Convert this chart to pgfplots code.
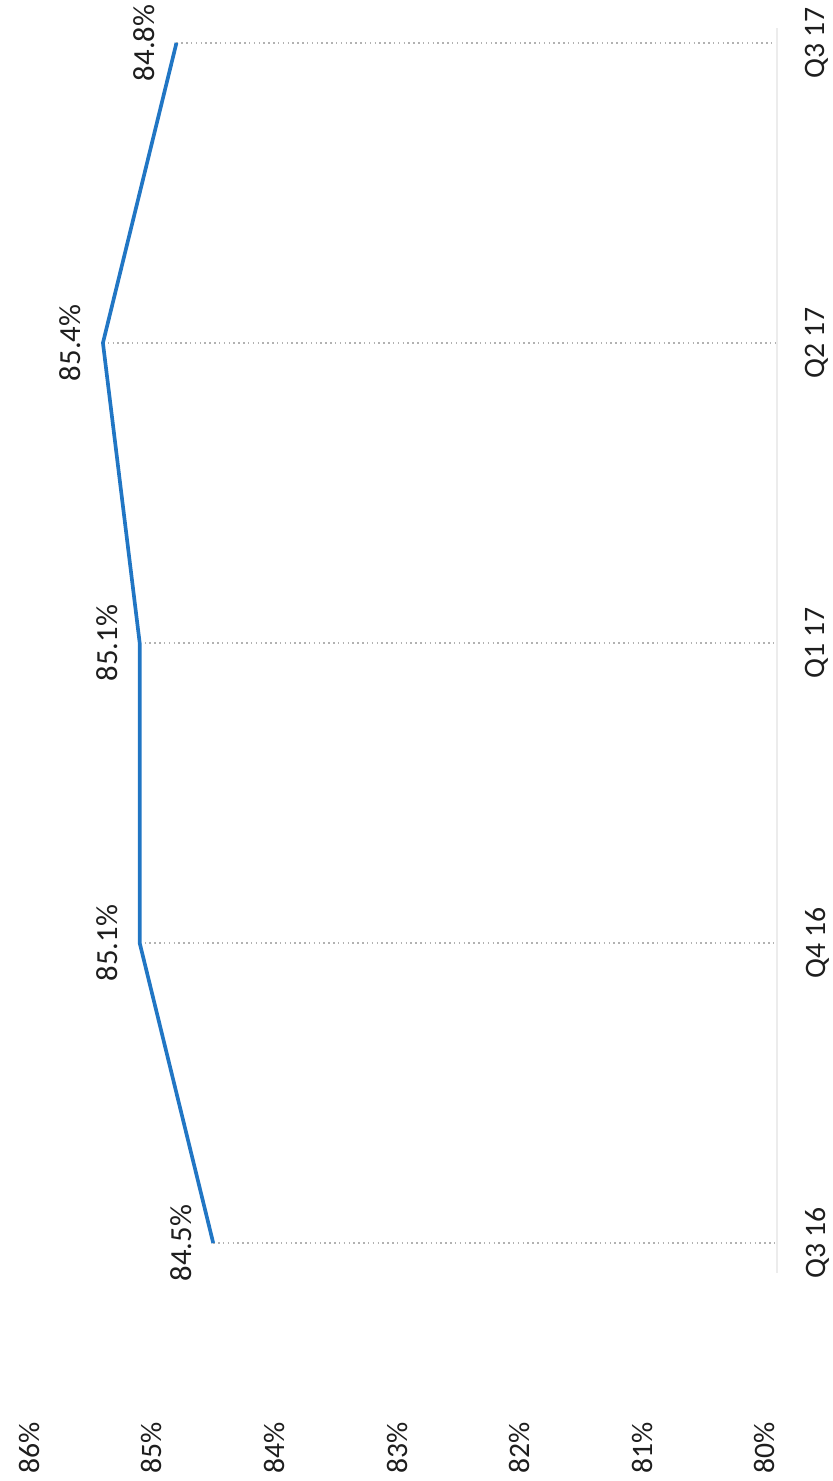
\documentclass[border=0pt]{standalone}
\usepackage{pgfplots}
\pgfplotsset{compat=1.18}
\usepackage{fontspec}
\setmainfont{Carlito}
\definecolor{lineblue}{RGB}{33,118,196}
\definecolor{txt}{RGB}{30,30,30}
\begin{document}
\begin{tikzpicture}
\begin{axis}[
  at={(0pt,24.3pt)}, anchor=south west,
  scale only axis, width=233.1pt, height=420pt,
  x dir=reverse, xmin=79.90, xmax=86.24,
  ymin=-0.523, ymax=4.143,
  axis line style={draw=none}, tick style={draw=none},
  xtick={80,81,82,83,84,85,86},
  xticklabels={80\%,81\%,82\%,83\%,84\%,85\%,86\%},
  xticklabel style={font=\fontsize{8.9}{10}\selectfont, text=txt, rotate=90, anchor=east, inner xsep=6.6pt, inner ysep=0pt},
  ytick={0,1,2,3,4},
  yticklabels={Q3 16,Q4 16,Q1 17,Q2 17,Q3 17},
  yticklabel pos=right,
  yticklabel style={font=\fontsize{8.9}{10}\selectfont, text=txt, rotate=90, anchor=north, inner ysep=8.4pt, inner xsep=0pt},
  clip=false,
]
% drop lines
\addplot[gray!60, densely dotted, line width=0.45pt, unbounded coords=jump] coordinates {
  (84.5,0) (79.90,0) (nan,nan)
  (85.1,1) (79.90,1) (nan,nan)
  (85.1,2) (79.90,2) (nan,nan)
  (85.4,3) (79.90,3) (nan,nan)
  (84.8,4) (79.90,4)
};
% faint category axis line
\addplot[gray!15, line width=0.4pt] coordinates {(79.90,-0.10) (79.90,4.05)};
% main series
\addplot[lineblue, line width=1.1pt, mark=none,
  point meta=explicit symbolic,
  nodes near coords,
  every node near coord/.append style={font=\fontsize{9.2}{10}\selectfont, text=txt, rotate=90, anchor=south, inner ysep=6pt, inner xsep=0pt}]
coordinates {
  (84.5,0) [84.5\%]
  (85.1,1) [85.1\%]
  (85.1,2) [85.1\%]
  (85.4,3) [85.4\%]
  (84.8,4) [84.8\%]
};
\end{axis}
\pgfresetboundingbox
\useasboundingbox (0pt,0pt) rectangle (249.6pt,444.3pt);
\end{tikzpicture}
\end{document}
